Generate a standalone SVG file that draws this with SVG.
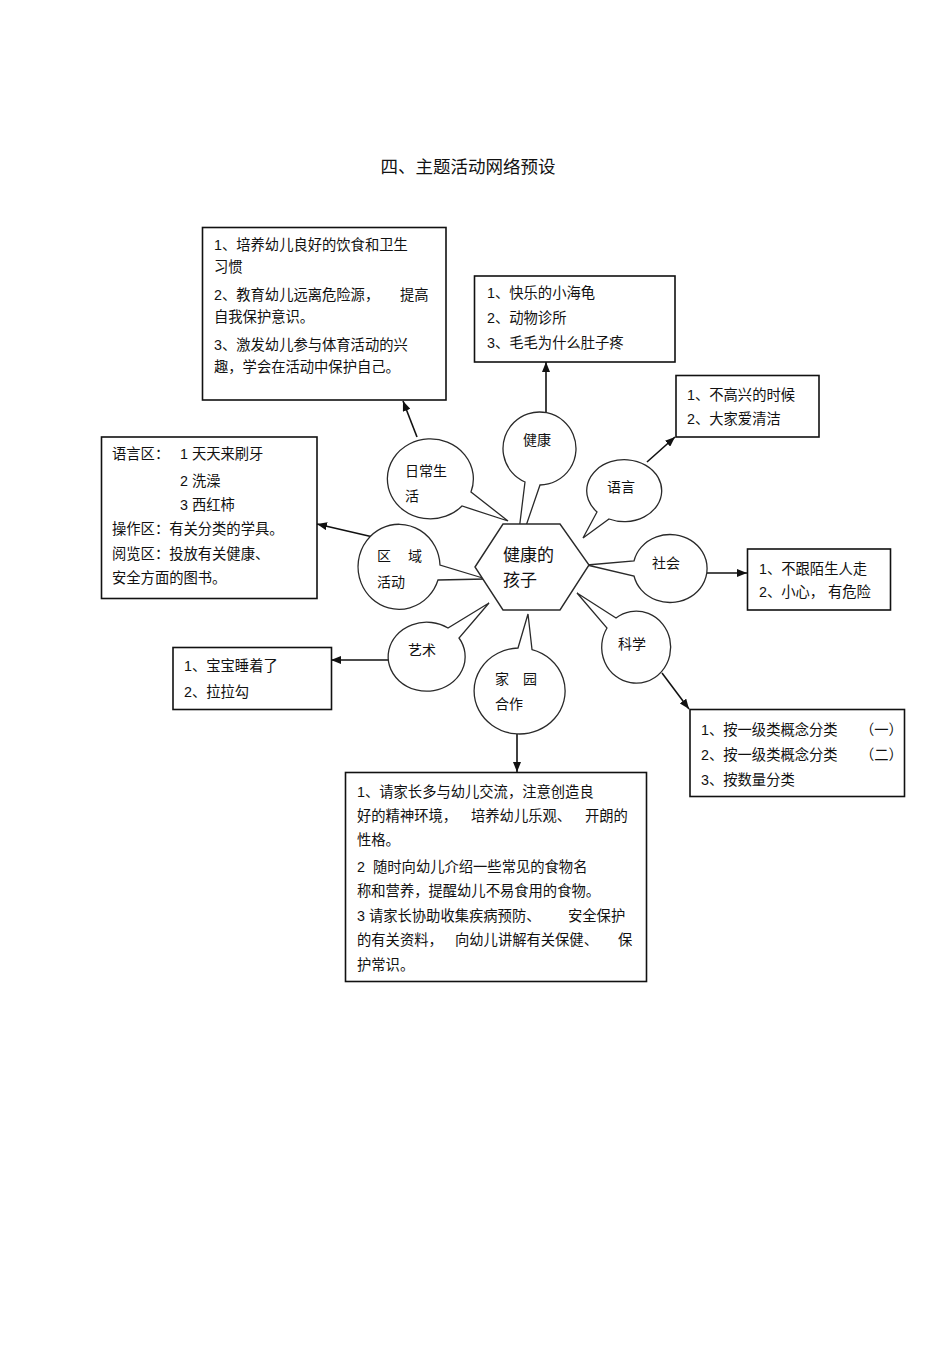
<svg xmlns="http://www.w3.org/2000/svg" width="950" height="1345" viewBox="0 0 950 1345">
<style>
text{font-family:"Liberation Sans","Noto Sans CJK SC",sans-serif;font-size:14.3px;fill:#111}
.bt{font-size:14px}
.title{font-size:17.5px}
.hex-t{font-size:17px}
.box{fill:#fff;stroke:#111;stroke-width:1.6}
.bub{fill:#fff;stroke:#2a2a2a;stroke-width:1.3;stroke-linejoin:miter}
.con{stroke:#111;stroke-width:1.6;fill:none;marker-end:url(#ah)}
</style>
<defs>
<marker id="ah" viewBox="0 0 10 8" refX="10" refY="4" markerWidth="10" markerHeight="8" markerUnits="userSpaceOnUse" orient="auto">
<path d="M0,0 L10,4 L0,8 z" fill="#111"/>
</marker>
</defs>
<rect width="950" height="1345" fill="#fff"/>
<text class="title" x="468" y="173" text-anchor="middle">四、主题活动网络预设</text>

<g id="box-daily">
<rect class="box" x="202.5" y="227.5" width="243.5" height="172.5"/>
<text x="214" y="250">1、培养幼儿良好的饮食和卫生</text>
<text x="214" y="272">习惯</text>
<text x="214" y="300">2、教育幼儿远离危险源，<tspan x="400">提高</tspan></text>
<text x="214" y="322">自我保护意识。</text>
<text x="214" y="350">3、激发幼儿参与体育活动的兴</text>
<text x="214" y="372">趣，学会在活动中保护自己。</text>
</g>
<g id="box-health">
<rect class="box" x="474.5" y="276" width="200.5" height="86"/>
<text x="487" y="298">1、快乐的小海龟</text>
<text x="487" y="323">2、动物诊所</text>
<text x="487" y="348">3、毛毛为什么肚子疼</text>
</g>
<g id="box-lang">
<rect class="box" x="676" y="375.5" width="143" height="61.5"/>
<text x="687" y="400">1、不高兴的时候</text>
<text x="687" y="424">2、大家爱清洁</text>
</g>
<g id="box-area">
<rect class="box" x="101.5" y="437" width="215.5" height="161.5"/>
<text x="112" y="459">语言区：</text>
<text x="180" y="459">1 天天来刷牙</text>
<text x="180" y="486">2 洗澡</text>
<text x="180" y="510">3 西红柿</text>
<text x="112" y="534">操作区：有关分类的学具。</text>
<text x="112" y="559">阅览区：投放有关健康、</text>
<text x="112" y="583">安全方面的图书。</text>
</g>
<g id="box-art">
<rect class="box" x="173" y="647.5" width="158.5" height="62"/>
<text x="184" y="671">1、宝宝睡着了</text>
<text x="184" y="697">2、拉拉勾</text>
</g>
<g id="box-social">
<rect class="box" x="747.5" y="549" width="143" height="61"/>
<text x="759" y="574">1、不跟陌生人走</text>
<text x="759" y="597">2、小心，<tspan x="828">有危险</tspan></text>
</g>
<g id="box-science">
<rect class="box" x="690" y="709.5" width="214.5" height="87"/>
<text x="701" y="735">1、按一级类概念分类<tspan x="860">（一）</tspan></text>
<text x="701" y="760">2、按一级类概念分类<tspan x="860">（二）</tspan></text>
<text x="701" y="785">3、按数量分类</text>
</g>
<g id="box-home">
<rect class="box" x="345.5" y="772.5" width="301" height="209"/>
<text x="357" y="797">1、请家长多与幼儿交流，注意创造良</text>
<text x="357" y="821">好的精神环境，<tspan x="471">培养幼儿乐观、</tspan><tspan x="585">开朗的</tspan></text>
<text x="357" y="845">性格。</text>
<text x="357" y="872">2<tspan x="373">随时向幼儿介绍一些常见的食物名</tspan></text>
<text x="357" y="896">称和营养，提醒幼儿不易食用的食物。</text>
<text x="357" y="921">3 请家长协助收集疾病预防、<tspan x="568">安全保护</tspan></text>
<text x="357" y="945">的有关资料，<tspan x="455">向幼儿讲解有关保健、</tspan><tspan x="618">保</tspan></text>
<text x="357" y="970">护常识。</text>
</g>

<g id="connectors">
<line class="con" x1="417" y1="437" x2="403" y2="401"/>
<line class="con" x1="546" y1="412" x2="546" y2="362"/>
<line class="con" x1="647" y1="462" x2="675" y2="437"/>
<line class="con" x1="373" y1="537" x2="317" y2="524"/>
<line class="con" x1="707" y1="573" x2="747" y2="573"/>
<line class="con" x1="388" y1="660" x2="331" y2="660"/>
<line class="con" x1="662" y1="673" x2="689" y2="709"/>
<line class="con" x1="517" y1="734" x2="517" y2="772"/>
</g>

<g id="bubble-daily">
<path class="bub" d="M462,506 A43,40 0 1 1 471,492 L508,521 Z"/>
<text class="bt" x="405" y="476">日常生</text>
<text class="bt" x="405" y="501">活</text>
</g>
<g id="bubble-health">
<path class="bub" d="M525,482 A36.5,36.5 0 1 1 540,485 L516,555 Z"/>
<text class="bt" x="523" y="445">健康</text>
</g>
<g id="bubble-lang">
<path class="bub" d="M597,512 A37.5,31 0 1 1 609,519 L583,538 Z"/>
<text class="bt" x="607" y="492">语言</text>
</g>
<g id="bubble-area">
<path class="bub" d="M438,580 A41,42.5 0 1 1 440,565 L486,579 Z"/>
<text class="bt" x="377" y="561">区</text>
<text class="bt" x="408" y="561">域</text>
<text class="bt" x="377" y="587">活动</text>
</g>
<g id="bubble-social">
<path class="bub" d="M634,561 A37,34 0 1 1 634,576 L587,565 Z"/>
<text class="bt" x="652" y="568">社会</text>
</g>
<g id="bubble-science">
<path class="bub" d="M616,618 A34.5,36 0 1 1 607,628 L577,593 Z"/>
<text class="bt" x="618" y="649">科学</text>
</g>
<g id="bubble-art">
<path class="bub" d="M459,638 A38.5,34.5 0 1 1 448,628 L489,603 Z"/>
<text class="bt" x="408" y="655">艺术</text>
</g>
<g id="bubble-home">
<path class="bub" d="M532,649.6 A45.5,43 0 1 1 518,648 L528,614 Z"/>
<text class="bt" x="495" y="684">家</text>
<text class="bt" x="523" y="684">园</text>
<text class="bt" x="495" y="709">合作</text>
</g>

<g id="center">
<polygon points="475,567 503,524 560,524 589,565 560,610 503,610" fill="#fff" stroke="#2a2a2a" stroke-width="1.4"/>
<text class="hex-t" x="503" y="561">健康的</text>
<text class="hex-t" x="503" y="586">孩子</text>
</g>
</svg>
